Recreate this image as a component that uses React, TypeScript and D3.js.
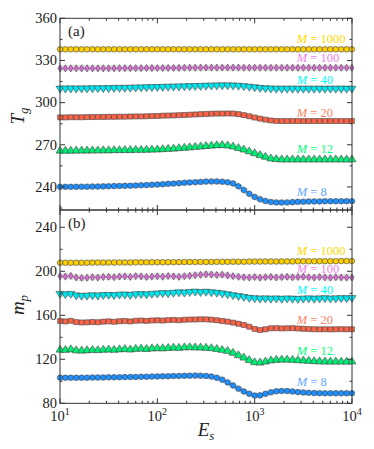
import React from 'react';
import * as d3 from 'd3';

// sample grid in E_s (log-spaced, 55 points from 10 to 10^4)
const esExp = d3.range(55).map(i => 1 + (3 * i) / 54);
const es = esExp.map(e => Math.pow(10, e));

const mLabels = ['1000', '100', '40', '20', '12', '8'];

// panel (a): T_g
const tg1000 = [337.9, 337.9, 337.9, 337.9, 337.9, 337.9, 337.9, 337.9, 337.9, 337.9, 337.9, 337.9, 337.9, 337.9, 337.9, 337.9, 337.9, 337.9, 337.9, 337.9, 337.9, 337.9, 337.9, 337.9, 337.9, 337.9, 337.9, 337.9, 337.9, 337.9, 337.9, 337.9, 337.9, 337.9, 337.9, 337.9, 337.9, 337.9, 337.9, 337.9, 337.9, 337.9, 337.9, 337.9, 337.9, 337.9, 337.9, 337.9, 337.9, 337.9, 337.9, 337.9, 337.9, 337.9, 337.9];
const tg100 = [324.4, 324.4, 324.4, 324.4, 324.4, 324.4, 324.4, 324.4, 324.4, 324.4, 324.4, 324.5, 324.5, 324.5, 324.5, 324.5, 324.6, 324.6, 324.6, 324.6, 324.7, 324.7, 324.7, 324.8, 324.8, 324.8, 324.9, 324.9, 324.9, 324.9, 324.9, 324.9, 324.9, 324.9, 324.8, 324.8, 324.8, 324.8, 324.8, 324.8, 324.8, 324.8, 324.8, 324.8, 324.8, 324.8, 324.8, 324.8, 324.8, 324.8, 324.8, 324.8, 324.8, 324.8, 324.8];
const tg40 = [310.1, 310.1, 310.2, 310.1, 310.2, 310.2, 310.3, 310.3, 310.4, 310.4, 310.5, 310.6, 310.6, 310.7, 310.8, 310.9, 311.0, 311.1, 311.2, 311.3, 311.4, 311.5, 311.6, 311.7, 311.8, 311.9, 312.0, 312.1, 312.2, 312.3, 312.4, 312.4, 312.3, 312.1, 311.8, 311.4, 311.0, 310.6, 310.3, 310.1, 310.0, 310.0, 310.0, 310.0, 310.0, 310.0, 310.0, 310.0, 310.0, 310.0, 310.0, 310.0, 310.0, 310.0, 310.0];
const tg20 = [289.5, 289.5, 289.6, 289.6, 289.6, 289.7, 289.7, 289.8, 289.8, 289.9, 289.9, 290.0, 290.0, 290.1, 290.2, 290.2, 290.3, 290.4, 290.5, 290.7, 290.8, 290.9, 291.1, 291.2, 291.4, 291.6, 291.8, 291.9, 292.1, 292.2, 292.2, 292.3, 292.2, 291.8, 291.1, 290.3, 289.4, 288.6, 287.9, 287.3, 287.0, 286.9, 286.9, 286.9, 286.9, 286.9, 286.9, 286.9, 286.9, 286.9, 286.9, 286.9, 286.9, 286.9, 286.9];
const tg12 = [265.7, 265.7, 265.7, 265.8, 265.8, 265.8, 265.9, 265.9, 266.0, 266.0, 266.1, 266.1, 266.2, 266.2, 266.3, 266.3, 266.4, 266.5, 266.6, 266.8, 267.0, 267.2, 267.5, 267.8, 268.1, 268.4, 268.7, 269.0, 269.3, 269.6, 269.7, 269.4, 268.7, 267.6, 266.5, 265.2, 263.9, 262.6, 261.4, 260.2, 259.7, 259.5, 259.5, 259.5, 259.5, 259.5, 259.5, 259.5, 259.5, 259.5, 259.5, 259.5, 259.5, 259.5, 259.5];
const tg8 = [240.1, 240.1, 240.1, 240.1, 240.2, 240.2, 240.3, 240.3, 240.4, 240.5, 240.6, 240.7, 240.8, 240.9, 241.0, 241.2, 241.3, 241.5, 241.7, 241.9, 242.2, 242.4, 242.7, 243.0, 243.2, 243.4, 243.6, 243.8, 243.9, 243.9, 243.7, 243.3, 242.5, 240.5, 237.8, 235.1, 232.9, 231.2, 230.0, 229.3, 229.0, 228.9, 229.0, 229.2, 229.4, 229.5, 229.6, 229.7, 229.7, 229.8, 229.8, 229.8, 229.9, 229.9, 229.9];

// panel (b): m_p
const mp1000 = [207.8, 207.8, 207.8, 207.8, 207.8, 207.8, 207.9, 207.9, 207.9, 207.9, 208.0, 208.0, 208.0, 208.0, 208.1, 208.1, 208.1, 208.2, 208.2, 208.2, 208.3, 208.3, 208.3, 208.4, 208.4, 208.4, 208.5, 208.5, 208.5, 208.6, 208.6, 208.6, 208.7, 208.7, 208.7, 208.8, 208.8, 208.8, 208.9, 208.9, 208.9, 209.0, 209.0, 209.0, 209.1, 209.1, 209.1, 209.1, 209.2, 209.2, 209.2, 209.2, 209.3, 209.3, 209.3];
const mp100 = [195.6, 195.2, 195.8, 194.4, 194.0, 194.2, 194.6, 194.3, 194.8, 195.0, 194.6, 195.2, 195.4, 194.9, 195.6, 195.3, 194.8, 195.2, 195.5, 195.1, 195.7, 195.4, 195.0, 195.5, 195.9, 196.4, 196.8, 197.2, 197.0, 196.6, 196.9, 196.2, 195.6, 195.0, 194.6, 194.3, 194.8, 194.2, 194.6, 194.9, 194.4, 194.7, 195.0, 194.5, 194.8, 195.1, 194.6, 194.3, 194.8, 194.5, 194.2, 194.6, 194.4, 194.3, 194.4];
const mp40 = [179.6, 179.2, 179.6, 178.2, 177.8, 178.0, 178.3, 178.0, 178.5, 178.7, 178.4, 178.9, 179.0, 178.6, 179.2, 179.4, 179.1, 179.6, 179.9, 180.3, 180.1, 180.6, 181.0, 180.7, 181.3, 181.6, 181.2, 181.5, 181.0, 180.6, 180.0, 179.2, 178.4, 177.6, 176.8, 176.0, 175.6, 175.3, 175.5, 175.2, 175.4, 175.1, 175.4, 175.2, 175.0, 175.3, 175.5, 175.2, 175.4, 175.6, 175.3, 175.5, 175.7, 175.6, 175.8];
const mp20 = [154.8, 154.4, 155.0, 153.8, 153.5, 153.6, 153.9, 153.7, 154.2, 154.5, 154.1, 154.6, 154.8, 154.4, 155.0, 155.2, 154.9, 155.3, 155.5, 155.2, 155.6, 155.8, 155.5, 155.9, 156.1, 156.2, 156.4, 156.3, 156.0, 155.5, 154.8, 154.2, 153.3, 152.3, 151.2, 149.6, 147.6, 146.6, 147.3, 148.2, 148.3, 148.1, 148.2, 148.3, 148.0, 147.7, 147.5, 147.3, 147.2, 147.3, 147.2, 147.3, 147.4, 147.3, 147.3];
const mp12 = [128.6, 128.4, 129.0, 128.0, 127.8, 128.1, 128.4, 128.2, 128.6, 128.8, 128.5, 129.0, 129.2, 128.8, 129.4, 129.6, 129.3, 129.8, 130.0, 129.8, 130.2, 130.5, 130.3, 130.8, 130.9, 130.7, 130.6, 130.4, 130.0, 129.3, 128.4, 127.5, 125.8, 123.6, 121.4, 119.2, 117.2, 116.9, 117.8, 118.9, 119.4, 119.6, 119.6, 119.4, 119.1, 118.8, 118.5, 118.2, 118.0, 117.9, 117.8, 117.8, 117.8, 117.8, 117.8];
const mp8 = [103.3, 103.3, 103.2, 103.2, 103.3, 103.3, 103.4, 103.4, 103.5, 103.6, 103.6, 103.7, 103.8, 103.9, 104.0, 104.1, 104.2, 104.3, 104.4, 104.5, 104.6, 104.8, 104.9, 105.0, 105.1, 105.2, 105.1, 104.9, 104.3, 103.2, 101.5, 99.0, 96.2, 93.3, 90.8, 88.7, 87.0, 87.2, 88.6, 90.0, 90.9, 91.2, 91.1, 90.7, 90.2, 89.8, 89.5, 89.3, 89.2, 89.1, 89.1, 89.1, 89.1, 89.1, 89.1];

const tgTicks = [240, 270, 300, 330, 360];
const tgMinor = [225, 255, 285, 315, 345];
const mpTicks = [80, 120, 160, 200, 240];
const mpMinor = [100, 140, 180, 220];
const xTicks = [10, 100, 1000, 10000];
const xTickExp = ['1', '2', '3', '4'];

// where the "M = ..." annotations sit (data units)
const tgLabelAt = [342.4, 328.9, 313.2, 289.7, 264.0, 233.3];
const mpLabelAt = [214.8, 198.5, 179.4, 152.1, 123.9, 95.7];

const fills = ['#FFD000', '#DA70D6', '#00E5EE', '#FF6347', '#00EE76', '#1E90FF'];
const labelFills = ['#FFD700', '#EE82EE', '#00FFFF', '#FF7F66', '#00FF7F', '#60A8FF'];
const shapeKeys = ['circle', 'diamond', 'down', 'square', 'up', 'circle'];

const W = 374, H = 449;
const X0 = 60, X1 = 352;
const TOP = 18.3, MID = 210, BOT = 403.3;
const FONT = 'Liberation Serif';
const AX = '#333';

const x = d3.scaleLog().domain([10, 1e4]).range([X0, X1]);
const xMinor: number[] = [];
[10, 100, 1000].forEach(d => { for (let k = 2; k < 10; k++) xMinor.push(d * k); });

const symbolPath: Record<string, string> = {
  circle: d3.symbol(d3.symbolCircle, 24)() as string,
  diamond: d3.symbol(d3.symbolDiamond, 15)() as string,
  down: d3.symbol(d3.symbolTriangle, 28)() as string,
  up: d3.symbol(d3.symbolTriangle, 28)() as string,
  square: d3.symbol(d3.symbolSquare, 24)() as string,
};

const panels = [
  { y: d3.scaleLinear().domain([223.6, 360]).range([MID, TOP]), top: TOP, bot: MID, major: tgTicks, minor: tgMinor,
    series: [tg1000, tg100, tg40, tg20, tg12, tg8], labelAt: tgLabelAt, tag: '(a)' },
  { y: d3.scaleLinear().domain([80, 255.7]).range([BOT, MID]), top: MID, bot: BOT, major: mpTicks, minor: mpMinor,
    series: [mp1000, mp100, mp40, mp20, mp12, mp8], labelAt: mpLabelAt, tag: '(b)' },
];

const line = d3.line();

function Panel({ p }: { p: typeof panels[number] }) {
  return (
    <g>
      {p.series.map((vals, si) => {
        const pts = vals.map((v, i) => [x(es[i]), p.y(v)] as [number, number]);
        const d = line(pts) as string;
        const key = shapeKeys[si];
        return (
          <g key={si}>
            <path d={d} fill="none" stroke="#999" strokeOpacity={0.35} strokeWidth={6} />
            <path d={d} fill="none" stroke={fills[si]} strokeWidth={1.2} />
            {pts.map((pt, i) => (
              <path key={i} d={symbolPath[key]}
                transform={`translate(${pt[0]},${pt[1]})${key === 'down' ? ' rotate(180)' : ''}`}
                fill={fills[si]} stroke={AX} strokeWidth={0.5} />
            ))}
            <text x={x(2700)} y={p.y(p.labelAt[si])} fill={labelFills[si]} style={{ fontFamily: FONT, fontSize: 12.5 }}>
              <tspan fontStyle="italic">M</tspan> = {mLabels[si]}
            </text>
          </g>
        );
      })}

      {/* inward ticks on all four sides */}
      {p.major.map(t => (
        <g key={'M' + t}>
          <line x1={X0} x2={X0 + 5} y1={p.y(t)} y2={p.y(t)} stroke={AX} />
          <line x1={X1} x2={X1 - 5} y1={p.y(t)} y2={p.y(t)} stroke={AX} />
          <text x={X0 - 3} y={p.y(t)} dy="0.33em" textAnchor="end" fill="#222" style={{ fontFamily: FONT, fontSize: 14.5 }}>{t}</text>
        </g>
      ))}
      {p.minor.map(t => (
        <g key={'m' + t}>
          <line x1={X0} x2={X0 + 2.5} y1={p.y(t)} y2={p.y(t)} stroke={AX} />
          <line x1={X1} x2={X1 - 2.5} y1={p.y(t)} y2={p.y(t)} stroke={AX} />
        </g>
      ))}
      {xTicks.map(t => (
        <g key={'X' + t}>
          <line x1={x(t)} x2={x(t)} y1={p.top} y2={p.top + 5} stroke={AX} />
          <line x1={x(t)} x2={x(t)} y1={p.bot} y2={p.bot - 5} stroke={AX} />
        </g>
      ))}
      {xMinor.map(t => (
        <g key={'x' + t}>
          <line x1={x(t)} x2={x(t)} y1={p.top} y2={p.top + 2.5} stroke={AX} />
          <line x1={x(t)} x2={x(t)} y1={p.bot} y2={p.bot - 2.5} stroke={AX} />
        </g>
      ))}
      <rect x={X0} y={p.top} width={X1 - X0} height={p.bot - p.top} fill="none" stroke={AX} strokeWidth={1} />
      <text x={X0 + 8} y={p.top + 18} fill="#222" style={{ fontFamily: FONT, fontSize: 15 }}>{p.tag}</text>
    </g>
  );
}

export default function App() {
  return (
    <svg width={W} height={H} style={{ position: 'absolute', left: 0, top: 0, background: '#fff' }}>
      {panels.map((p, i) => <Panel key={i} p={p} />)}

      {xTicks.map((t, i) => (
        <text key={t} x={x(t)} y={BOT + 18} textAnchor="middle" fill="#222" style={{ fontFamily: FONT, fontSize: 14.5 }}>
          10<tspan dy={-6} style={{ fontSize: 10 }}>{xTickExp[i]}</tspan>
        </text>
      ))}

      <text transform="translate(24,116) rotate(-90)" textAnchor="middle" fill="#222"
        style={{ fontFamily: FONT, fontSize: 19, fontStyle: 'italic' }}>
        T<tspan dy={4} style={{ fontSize: 13 }}>g</tspan>
      </text>
      <text transform="translate(24,305) rotate(-90)" textAnchor="middle" fill="#222"
        style={{ fontFamily: FONT, fontSize: 19, fontStyle: 'italic' }}>
        m<tspan dy={4} style={{ fontSize: 13 }}>p</tspan>
      </text>
      <text x={206} y={436} textAnchor="middle" fill="#222"
        style={{ fontFamily: FONT, fontSize: 19, fontStyle: 'italic' }}>
        E<tspan dy={4} style={{ fontSize: 13 }}>s</tspan>
      </text>
    </svg>
  );
}
